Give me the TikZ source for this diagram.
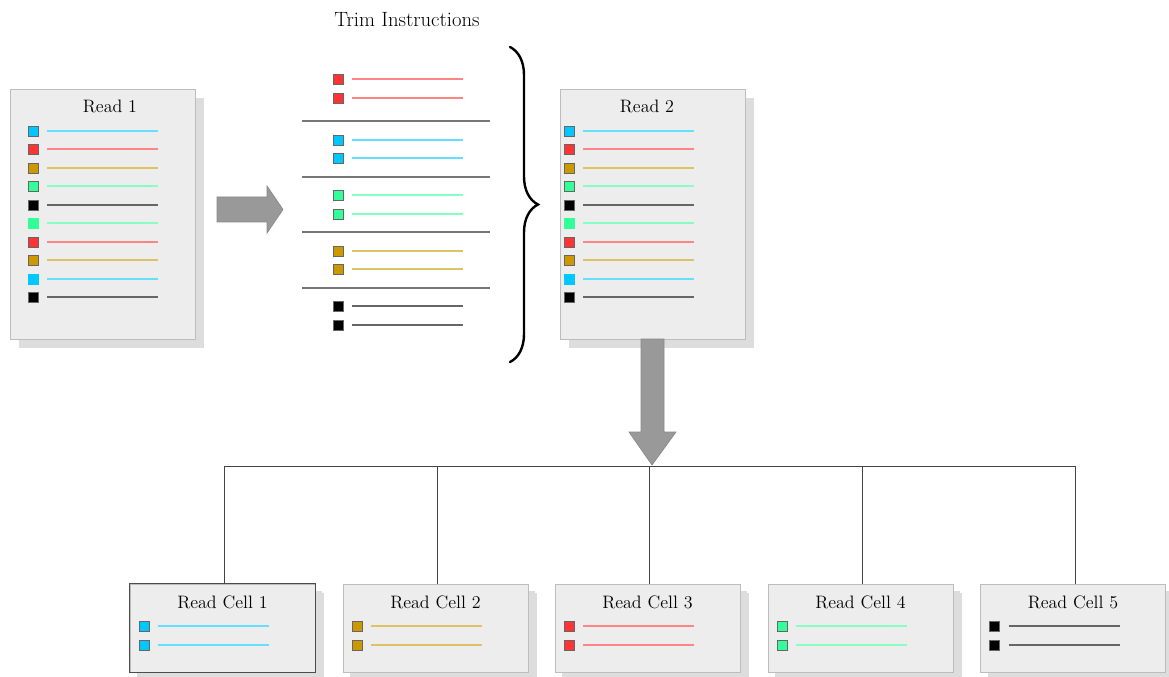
\documentclass[tikz,border=0pt]{standalone}
\usetikzlibrary{shadows,decorations.pathreplacing}
\definecolor{ccyan}{HTML}{00C8FF}
\definecolor{cred}{HTML}{FF3333}
\definecolor{cgold}{HTML}{CC9900}
\definecolor{cgreen}{HTML}{33FF99}
\definecolor{cblack}{HTML}{000000}
\definecolor{boxfill}{HTML}{EDEDED}
\definecolor{boxline}{HTML}{BDBDBD}
\definecolor{shadowc}{HTML}{DDDDDD}
\definecolor{arrowc}{HTML}{999999}
\definecolor{arrowline}{HTML}{888888}
\definecolor{sepc}{HTML}{777777}
\definecolor{busc}{HTML}{444444}
\begin{document}
\begin{tikzpicture}[x=0.75pt,y=-0.75pt,
  readbox/.style={draw=boxline, fill=boxfill, line width=0.7pt, inner sep=0pt,
    minimum width=138.75pt, minimum height=187.5pt,
    drop shadow={shadow xshift=6.75pt, shadow yshift=-6.75pt, fill=shadowc, opacity=1}},
  cellbox/.style={readbox, minimum height=66pt,
    drop shadow={shadow xshift=5.5pt, shadow yshift=-5.5pt, fill=shadowc, opacity=1}},
  boxtitle/.style={font=\fontsize{13.5}{16}\selectfont, inner sep=0pt, anchor=center},
  sq/.style={minimum size=7.5pt, inner sep=0pt, draw=black!60, line width=0.5pt},
  itemline/.style={line width=1.1pt},
  sepline/.style={draw=sepc, line width=0.8pt},
  fatarrow/.style={fill=arrowc, draw=arrowline, line width=0.5pt},
  bus/.style={draw=busc, line width=0.7pt}
]
\useasboundingbox (0,0) rectangle (1169,677);

% ---------- Read 1 ----------
\node[readbox] (r1) at (102.5,214) {};
\node[boxtitle] (r1t) at (110,106) {Read 1};
\foreach \c/\b/\y [count=\i] in {ccyan/black!60/131,cred/black!60/149,cgold/black!60/168,cgreen/black!60/186,cblack/black!60/205,cgreen/cgreen/223,cred/black!60/242,cgold/black!60/260,ccyan/ccyan/279,cblack/black!60/297}{
  \node[sq, fill=\c, draw=\b] (r1s\i) at (33,\y) {};
  \draw[itemline, draw=\c!60!white] (47,\y) -- (158,\y);
}

% ---------- right fat arrow ----------
\draw[fatarrow] (217,197) -- (267,197) -- (267,186) -- (283,209.5) -- (267,233) -- (267,222) -- (217,222) -- cycle;

% ---------- Trim instructions ----------
\node[font=\fontsize{15.5}{18}\selectfont, inner sep=0pt] (trim) at (407,20) {Trim Instructions};
\foreach \c/\y [count=\i] in {cred/79,cred/98,ccyan/140,ccyan/158,cgreen/195,cgreen/214,cgold/251,cgold/269,cblack/306,cblack/325}{
  \node[sq, fill=\c] (ts\i) at (338,\y) {};
  \draw[itemline, draw=\c!60!white] (352,\y) -- (463,\y);
}
\foreach \y [count=\i] in {121,177,232,288}{
  \coordinate (sepL\i) at (302,\y);
  \coordinate (sepR\i) at (490,\y);
  \draw[sepline] (sepL\i) -- (sepR\i);
}

% ---------- brace ----------
\coordinate (bt) at (510,47);
\coordinate (bb) at (510,362);
\draw[line width=1.8pt, line cap=round, decorate, decoration={brace, amplitude=21pt, aspect=0.5}] (bt) -- (bb);

% ---------- Read 2 ----------
\node[readbox] (r2) at (652.5,214) {};
\node[boxtitle] (r2t) at (647,106) {Read 2};
\foreach \c/\b/\y [count=\i] in {ccyan/black!60/131,cred/black!60/149,cgold/black!60/168,cgreen/black!60/186,cblack/black!60/205,cgreen/cgreen/223,cred/black!60/242,cgold/black!60/260,ccyan/ccyan/279,cblack/black!60/297}{
  \node[sq, fill=\c, draw=\b] (r2s\i) at (569,\y) {};
  \draw[itemline, draw=\c!60!white] (583,\y) -- (694,\y);
}

% ---------- down fat arrow ----------
\draw[fatarrow] (641,339) -- (664,339) -- (664,432) -- (676,432) -- (652,465) -- (629,432) -- (641,432) -- cycle;
\coordinate (bus) at (652,466);

% ---------- cells ----------
\foreach \x/\c/\n [count=\i] in {222.5/ccyan/1,435.5/cgold/2,647.5/cred/3,860.5/cgreen/4,1073/cblack/5}{
  \node[cellbox] (c\i) at (\x,628) {};
  \node[boxtitle] (c\i t) at (\x,602) {Read Cell \n};
  \foreach \y [count=\j] in {626,645}{
    \node[sq, fill=\c] (c\i s\j) at ({\x-78.5},\y) {};
    \draw[itemline, draw=\c!60!white] ({\x-64.5},\y) -- ({\x+46.5},\y);
  }
}
\draw[draw=black!70, line width=0.7pt] (c1.north west) rectangle (c1.south east);
\foreach \i in {1,...,5}{
  \draw[bus] ([xshift=1.5pt]c\i.north) |- (bus);
}
\end{tikzpicture}
\end{document}
